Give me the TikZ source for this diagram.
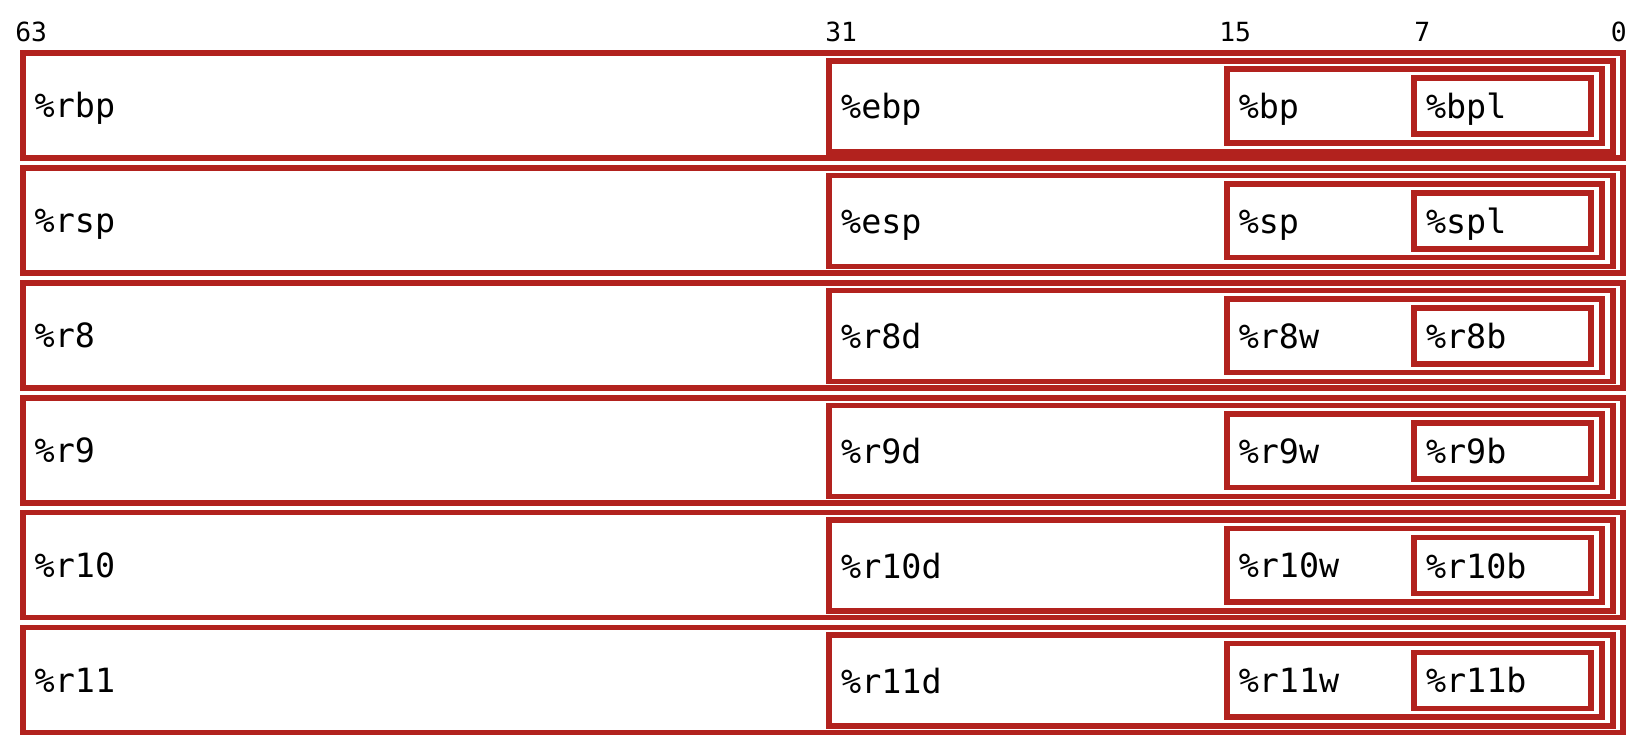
\documentclass[tikz,border=0pt]{standalone}
\usepackage{fontspec}
\setmonofont{DejaVu Sans Mono}
\usepackage{tikz}
\usetikzlibrary{positioning}
\definecolor{regred}{RGB}{178, 34, 30}

\begin{document}
\begin{tikzpicture}[
    x=0.02cm, y=-0.02cm,
    reg/.style={rectangle, draw=regred, line width=0.114cm, anchor=north west,
                inner xsep=0.24cm, inner ysep=0pt, text height=0.5cm, text depth=0pt,
                align=left, font=\ttfamily\fontsize{19}{22}\selectfont},
    r64/.style={reg, minimum width=32.012cm, minimum height=2.1cm, text width=31.53cm},
    r32/.style={reg, minimum width=15.686cm, minimum height=1.82cm, text width=15.2cm},
    r16/.style={reg, minimum width=7.512cm, minimum height=1.474cm, text width=7.03cm},
    r8/.style={reg, minimum width=3.54cm, minimum height=1.12cm, text width=3.06cm},
    bit/.style={inner sep=0pt, font=\ttfamily\fontsize{15}{18}\selectfont}
]
    \useasboundingbox (0,0) rectangle (1646,750);

    \node[bit, anchor=base west] (b63) at (15, 42) {63};
    \node[bit, anchor=base west] (b31) at (825, 42) {31};
    \node[bit, anchor=base west] (b15) at (1219, 42) {15};
    \node[bit, anchor=base west] (b7)  at (1414, 42) {7};
    \node[bit, anchor=base east] (b0)  at (1627, 42) {0};

    \foreach \q/\d/\w/\b [count=\i from 0] in {rbp/ebp/bp/bpl, rsp/esp/sp/spl,
            r8/r8d/r8w/r8b, r9/r9d/r9w/r9b, r10/r10d/r10w/r10b, r11/r11d/r11w/r11b} {
        \node[r64] (\q) at (19.85, 50.15+114.9*\i) {\%\q};
        \node[r32] (\d) at (826.15, 57.85+114.9*\i) {\%\d};
        \node[r16] (\w) at (1223.85, 66.15+114.9*\i) {\%\w};
        \node[r8]  (\b) at (1411.15, 75.15+114.9*\i) {\%\b};
    }
\end{tikzpicture}
\end{document}
